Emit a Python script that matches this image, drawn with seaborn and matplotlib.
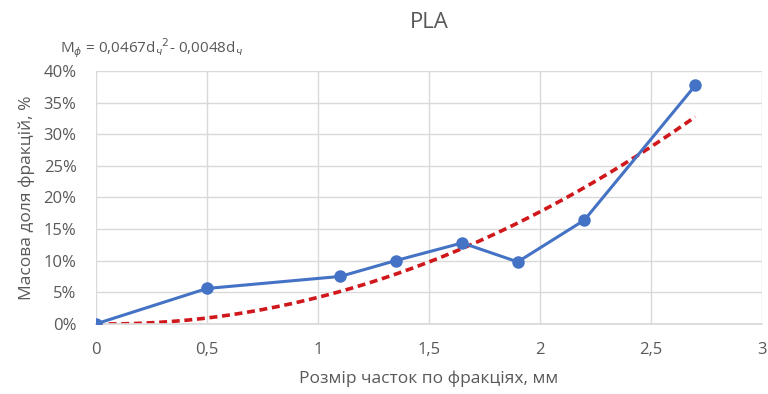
import numpy as np
import pandas as pd
import matplotlib
matplotlib.use("Agg")
import matplotlib.pyplot as plt
import seaborn as sns
from matplotlib.ticker import FuncFormatter, MultipleLocator

# measured fractions
size_mm = [0, 0.5, 1.1, 1.35, 1.65, 1.9, 2.2, 2.7]
mass_share = [0.0, 0.056, 0.075, 0.100, 0.128, 0.098, 0.164, 0.377]

# polynomial trendline coefficients (as shown on the chart)
coef_a = 0.0467
coef_b = -0.0048

df = pd.DataFrame({"d": size_mm, "m": mass_share})
d_fit = np.linspace(0, max(size_mm), 200)
fit = pd.DataFrame({"d": d_fit, "m": coef_a * d_fit ** 2 + coef_b * d_fit})

sns.set_theme(style="whitegrid")
plt.rcParams["font.family"] = ["Open Sans", "DejaVu Sans"]
gray = "#595959"

fig, ax = plt.subplots(figsize=(7.68, 3.94), dpi=100)
fig.subplots_adjust(left=0.125, right=0.992, top=0.82, bottom=0.178)

sns.lineplot(data=fit, x="d", y="m", ax=ax, color="#d0181c", lw=2.6,
             linestyle=(0, (2.2, 1.3)), zorder=2)
sns.lineplot(data=df, x="d", y="m", ax=ax, color="#4472c4", lw=2.2,
             marker="o", markersize=9, markeredgewidth=0, zorder=3)

ax.set_xlim(0, 3)
ax.set_ylim(0, 0.40)
ax.xaxis.set_major_locator(MultipleLocator(0.5))
ax.yaxis.set_major_locator(MultipleLocator(0.05))
ax.xaxis.set_major_formatter(FuncFormatter(lambda v, p: f"{v:g}".replace(".", ",")))
ax.yaxis.set_major_formatter(FuncFormatter(lambda v, p: f"{v*100:.0f}%"))

ax.grid(True, color="#d9d9d9", lw=1)
for s in ["top", "right", "left"]:
    ax.spines[s].set_visible(False)
ax.spines["bottom"].set_color("#d9d9d9")
ax.tick_params(colors=gray, labelsize=12, length=0)
ax.tick_params(axis="x", pad=13)
ax.tick_params(axis="y", pad=14)
for lab in ax.get_xticklabels() + ax.get_yticklabels():
    lab.set_color(gray)

ax.set_xlabel("Розмір часток по фракціях, мм", fontsize=12.5, color=gray, labelpad=9)
ax.set_ylabel("Масова доля фракцій, %", fontsize=12.5, color=gray, labelpad=6)
ax.set_title("PLA", fontsize=16, color=gray, pad=31)

fig.text(0.078, 0.865, "M$_\\phi$ = 0,0467d$_ч$$^2$- 0,0048d$_ч$", fontsize=11,
         color=gray)

fig.savefig("out.png", dpi=100)
